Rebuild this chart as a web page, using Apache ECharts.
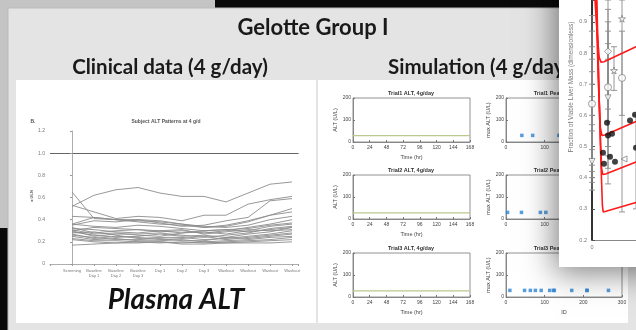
<!DOCTYPE html>
<html><head><meta charset="utf-8">
<script src="https://cdn.jsdelivr.net/npm/echarts@6/dist/echarts.min.js"></script>
<style>html,body{margin:0;padding:0;background:#bdbdbd;overflow:hidden;width:636px;height:330px}#c{width:960px;height:330px}</style>
</head><body><div id="c"></div>
<script>
// ---------- DATA ----------
const clinicalCategories = ['Screening','Baseline\nDay 1','Baseline\nDay 2','Baseline\nDay 3','Day 1','Day 2','Day 3','Washout','Washout','Washout','Washout'];
const clinicalYTicks = ['0','0.2','0.4','0.6','0.8','1.0','1.2'];
const uln = 1.0;
const treatmentPeriod = [3.8, 6.8];
const subj01 = [0.52,0.62,0.67,0.69,0.64,0.61,0.61,0.56,0.64,0.72,0.74];
const subj02 = [0.65,0.41,0.40,0.39,0.38,0.36,0.33,0.34,0.38,0.44,0.50];
const subj03 = [0.53,0.47,0.41,0.43,0.42,0.39,0.44,0.44,0.54,0.58,0.61];
const subj04 = [0.36,0.42,0.40,0.40,0.37,0.34,0.35,0.39,0.42,0.57,0.59];
const subj05 = [0.43,0.42,0.40,0.38,0.36,0.35,0.33,0.35,0.39,0.44,0.47];
const subj06 = [0.35,0.39,0.38,0.40,0.39,0.36,0.34,0.33,0.35,0.40,0.43];
const subj07 = [0.33,0.28,0.30,0.31,0.29,0.30,0.28,0.30,0.33,0.36,0.40];
const subj08 = [0.31,0.27,0.28,0.26,0.25,0.28,0.29,0.27,0.30,0.34,0.36];
const subj09 = [0.30,0.25,0.27,0.27,0.28,0.26,0.24,0.26,0.28,0.32,0.34];
const subj10 = [0.29,0.26,0.24,0.25,0.27,0.25,0.26,0.24,0.27,0.29,0.33];
const subj11 = [0.28,0.29,0.26,0.23,0.24,0.24,0.22,0.23,0.25,0.27,0.30];
const subj12 = [0.27,0.23,0.25,0.24,0.22,0.23,0.25,0.22,0.24,0.26,0.28];
const subj13 = [0.26,0.24,0.22,0.22,0.23,0.21,0.21,0.24,0.23,0.25,0.27];
const subj14 = [0.25,0.22,0.23,0.21,0.21,0.22,0.20,0.21,0.22,0.24,0.25];
const subj15 = [0.23,0.21,0.21,0.20,0.19,0.20,0.19,0.20,0.21,0.22,0.24];
const subj16 = [0.22,0.20,0.19,0.19,0.20,0.18,0.18,0.19,0.20,0.21,0.22];
const subj17 = [0.17,0.18,0.19,0.20,0.20,0.19,0.20,0.19,0.19,0.19,0.20];
const subj18 = [0.32,0.31,0.29,0.28,0.30,0.31,0.27,0.29,0.31,0.30,0.31];
const subj19 = [0.30,0.33,0.32,0.31,0.30,0.28,0.30,0.31,0.29,0.31,0.33];
const subj20 = [0.36,0.34,0.33,0.35,0.34,0.32,0.30,0.31,0.32,0.35,0.37];
const clinicalSubjects = [subj01,subj02,subj03,subj04,subj05,subj06,subj07,subj08,subj09,subj10,subj11,subj12,subj13,subj14,subj15,subj16,subj17,subj18,subj19,subj20];

const simTimes = [0,24,48,72,96,120,144,168];
const trial1ALT = [29,29,29,29,29,29,29,29];
const trial2ALT = [28,28,28,28,28,28,28,28];
const trial3ALT = [28,28,28,28,28,28,28,28];
const trial1PeakID = [41,69,137];
const trial1PeakALT = [30,30,30];
const trial2PeakID = [4,40,89,103];
const trial2PeakALT = [30,30,30,30];
const trial3PeakID = [10,48,63,76,91,113,123,125,170,209,210,265];
const trial3PeakALT = [30,30,30,30,30,30,30,30,30,30,30,30];

// overlay figure: fraction of viable liver mass
const redCurve1 = [[0.5,1.02],[1.2,0.88],[1.8,0.785],[2.3,0.77],[3,0.772],[11,0.82],[20,0.87]];
const redCurve2 = [[0.9,1.02],[1.6,0.70],[2.1,0.56],[2.5,0.535],[3.2,0.537],[11,0.58],[20,0.63]];
const redCurve3 = [[1.0,1.02],[1.9,0.60],[2.4,0.43],[2.7,0.41],[3.4,0.412],[11,0.45],[20,0.49]];
const redCurve4 = [[1.1,1.02],[2.1,0.50],[2.6,0.31],[2.8,0.29],[3.5,0.292],[11,0.32],[20,0.35]];
const filledX = [3.75,4.0,5.0,2.75,3.0,4.5,5.75,9.5,10.75,11];
const filledY = [0.576,0.535,0.541,0.48,0.445,0.467,0.451,0.583,0.602,0.496];
const openCircleX = [0,4.0,7.5];
const openCircleY = [0.637,0.69,0.72];
const diamondX = [4.0]; const diamondY = [0.805];
const starX = [7.5,5.5]; const starY = [0.91,0.744];
const triDownX = [4.0,0]; const triDownY = [0.656,0.452];
const triLeftX = [8.0]; const triLeftY = [0.46];
const errX  = [0,0,0,0,0,0,0,0,4.0,4.0,4.0,4.0,4.0,4.0,5.5,7.5,7.5,11];
const errLo = [0.36,0.385,0.40,0.42,0.44,0.49,0.55,0.60,0.38,0.43,0.47,0.50,0.58,0.62,0.68,0.29,0.60,0.30];
const errHi = [0.92,0.87,0.82,0.78,0.74,0.70,0.66,0.57,0.97,0.94,0.90,0.87,0.83,0.78,0.82,0.97,0.87,0.60];

// ---------- CHART ----------
const chart = echarts.init(document.getElementById('c'), null, {renderer:'canvas', width:960, height:330});
const SANS = 'Liberation Sans';
const tiny = {fontFamily:SANS, fontSize:5, color:'#444'};

const grids = [
  {left:50, top:131, width:248.6, height:133, zlevel:1},
  {left:353, top:98, width:117, height:44}, {left:353, top:175, width:117, height:44}, {left:353, top:253, width:117, height:44},
  {left:506, top:98, width:116, height:44}, {left:506, top:175, width:116, height:44}, {left:506, top:253, width:116, height:44},
  {left:592, top:0, width:300, height:240, zlevel:3}
];
for (let i=1;i<=6;i++){ Object.assign(grids[i], {show:true, backgroundColor:'#fff', borderColor:'#777', borderWidth:0.8, zlevel:1}); }

const xAxes = [], yAxes = [];
xAxes.push({gridIndex:0, type:'value', min:-1, max:10.3, interval:1, zlevel:1,
  axisLine:{lineStyle:{color:'#999', width:0.8}}, axisTick:{length:2, lineStyle:{color:'#999'}}, splitLine:{show:false},
  axisLabel:{fontFamily:SANS, fontSize:4, lineHeight:5, color:'#777', margin:4,
    formatter:v=> (Number.isInteger(v) && v>=0 && v<clinicalCategories.length) ? clinicalCategories[v] : ''}});
yAxes.push({gridIndex:0, type:'value', min:0, max:1.2, interval:0.2, zlevel:1,
  axisLine:{show:true, lineStyle:{color:'#999', width:0.8}}, axisTick:{show:true, length:2, lineStyle:{color:'#999'}}, splitLine:{show:false},
  axisLabel:{fontFamily:SANS, fontSize:5, color:'#777', margin:5, formatter:v=>clinicalYTicks[Math.round(v/0.2)]}});

for (let k=0;k<3;k++){
  xAxes.push({gridIndex:1+k, type:'value', min:0, max:168, interval:24, zlevel:1,
    name:'Time (hr)', nameLocation:'middle', nameGap:12, nameTextStyle:{fontFamily:SANS, fontSize:5.5, color:'#444'},
    axisLine:{lineStyle:{color:'#777', width:0.8}}, axisTick:{inside:true, length:2, lineStyle:{color:'#777'}}, splitLine:{show:false},
    axisLabel:{...tiny, margin:3}});
  yAxes.push({gridIndex:1+k, type:'value', min:0, max:200, interval:100, zlevel:1,
    name:'ALT (U/L)', nameLocation:'middle', nameGap:15, nameTextStyle:{fontFamily:SANS, fontSize:5.5, color:'#444'},
    axisLine:{show:true, lineStyle:{color:'#777', width:0.8}}, axisTick:{show:true, inside:true, length:2, lineStyle:{color:'#777'}}, splitLine:{show:false},
    axisLabel:{...tiny, margin:2}});
}
for (let k=0;k<3;k++){
  xAxes.push({gridIndex:4+k, type:'value', min:0, max:300, interval:100, zlevel:1,
    name: k===2 ? 'ID' : '', nameLocation:'middle', nameGap:12, nameTextStyle:{fontFamily:SANS, fontSize:5.5, color:'#444'},
    axisLine:{lineStyle:{color:'#777', width:0.8}}, axisTick:{inside:true, length:2, lineStyle:{color:'#777'}}, splitLine:{show:false},
    axisLabel:{...tiny, margin:3}});
  yAxes.push({gridIndex:4+k, type:'value', min:0, max:200, interval:100, zlevel:1,
    name:'max ALT (U/L)', nameLocation:'middle', nameGap:15, nameTextStyle:{fontFamily:SANS, fontSize:5.5, color:'#444'},
    axisLine:{show:true, lineStyle:{color:'#777', width:0.8}}, axisTick:{show:true, inside:true, length:2, lineStyle:{color:'#777'}}, splitLine:{show:false},
    axisLabel:{...tiny, margin:2}});
}
xAxes.push({gridIndex:7, type:'value', min:0, max:75, interval:25, zlevel:3,
  axisLine:{lineStyle:{color:'#888', width:1}}, axisTick:{show:false}, splitLine:{show:false},
  axisLabel:{fontFamily:SANS, fontSize:5.5, color:'#777', margin:4, formatter:v=> v===0?'0':''}});
yAxes.push({gridIndex:7, type:'value', min:0.2, max:0.97, interval:0.1, zlevel:3,
  axisLine:{show:true, lineStyle:{color:'#333', width:2}}, axisTick:{show:true, inside:true, length:3, lineStyle:{color:'#555'}}, splitLine:{show:false},
  axisLabel:{fontFamily:SANS, fontSize:5.5, color:'#777', margin:5,
    formatter:v=> Math.abs(v*10-Math.round(v*10))<1e-6 ? v.toFixed(1) : ''}});

const series = [];
clinicalSubjects.forEach((s)=>{
  series.push({type:'line', xAxisIndex:0, yAxisIndex:0, zlevel:1, data:s.map((v,j)=>[j,v]), symbol:'none',
    lineStyle:{color:'#8c8c8c', width:0.9}, silent:true});
});
series.push({type:'line', xAxisIndex:0, yAxisIndex:0, zlevel:1, data:[], symbol:'none',
  markLine:{silent:true, symbol:'none', label:{show:false}, lineStyle:{color:'#666', type:'solid', width:1}, data:[{yAxis:uln}]},
  markArea:{silent:true, itemStyle:{color:'#d9d9d9', borderColor:'#999', borderWidth:0.6},
    label:{show:true, position:'inside', fontFamily:SANS, fontSize:4, color:'#777'},
    data:[[{name:'Treatment Period', xAxis:treatmentPeriod[0], yAxis:0}, {xAxis:treatmentPeriod[1], yAxis:0.065}]]}});

[trial1ALT, trial2ALT, trial3ALT].forEach((arr,k)=>{
  series.push({type:'line', xAxisIndex:1+k, yAxisIndex:1+k, zlevel:1, symbol:'none',
    data:simTimes.map((t,j)=>[t,arr[j]]), lineStyle:{color:'#b9c98f', width:1.2}});
});
[[trial1PeakID,trial1PeakALT],[trial2PeakID,trial2PeakALT],[trial3PeakID,trial3PeakALT]].forEach((p,k)=>{
  series.push({type:'scatter', xAxisIndex:4+k, yAxisIndex:4+k, zlevel:1, symbol:'rect', symbolSize:3.5,
    data:p[0].map((id,j)=>[id,p[1][j]]), itemStyle:{color:'#2f86d6'}});
});

// overlay figure series
series.push({type:'custom', xAxisIndex:7, yAxisIndex:7, zlevel:3, z:3,
  data: errX.map((x,i)=>[x,errLo[i],errHi[i]]),
  encode:{x:0, y:[1,2]},
  renderItem:function(params, api){
    const x=api.value(0), lo=api.value(1), hi=api.value(2);
    const a=api.coord([x,hi]), b=api.coord([x,lo]); const w=3;
    const st={stroke:'#8a8a8a', lineWidth:0.9};
    return {type:'group', children:[
      {type:'line', shape:{x1:a[0],y1:a[1],x2:b[0],y2:b[1]}, style:st},
      {type:'line', shape:{x1:a[0]-w,y1:a[1],x2:a[0]+w,y2:a[1]}, style:st},
      {type:'line', shape:{x1:b[0]-w,y1:b[1],x2:b[0]+w,y2:b[1]}, style:st}
    ]};
  }});
[redCurve1, redCurve2, redCurve3, redCurve4].forEach(c=>{
  series.push({type:'line', xAxisIndex:7, yAxisIndex:7, zlevel:3, z:5, data:c, symbol:'none',
    lineStyle:{color:'#ff1a1a', width:1.6}});
});
function sc(xs, ys, sym, size, style, rot){
  series.push({type:'scatter', xAxisIndex:7, yAxisIndex:7, zlevel:3, z:6, symbol:sym, symbolSize:size, symbolRotate:rot||0,
    data: xs.map((x,i)=>[x,ys[i]]), itemStyle:style});
}
const openStyle = {color:'#fff', borderColor:'#777', borderWidth:0.9};
sc(filledX, filledY, 'circle', 6, {color:'#111'});
sc(openCircleX, openCircleY, 'circle', 7, openStyle);
sc(diamondX, diamondY, 'diamond', 7, openStyle);
sc(starX, starY, 'path://M50,0L61,35L98,35L68,57L79,91L50,70L21,91L32,57L2,35L39,35Z', 7, openStyle);
sc(triDownX, triDownY, 'triangle', 6, openStyle, 180);
sc(triLeftX, triLeftY, 'triangle', 6, openStyle, 90);

const graphic = [
  {type:'rect', zlevel:0, z:0, shape:{x:0,y:0,width:960,height:330}, style:{fill:'#c4c4c4'}},
  {type:'rect', zlevel:0, z:1, shape:{x:215,y:0,width:345,height:8}, style:{fill:'#0a0a0a'}},
  {type:'rect', zlevel:0, z:1, shape:{x:0,y:228,width:8,height:102}, style:{fill:'#0a0a0a'}},
  {type:'rect', zlevel:0, z:2, shape:{x:8,y:8,width:700,height:330}, style:{fill:'#e4e4e4', stroke:'#bbb', lineWidth:1}},
  {type:'rect', zlevel:0, z:3, shape:{x:16,y:80,width:300,height:243}, style:{fill:'#fff'}},
  {type:'rect', zlevel:0, z:3, shape:{x:318,y:80,width:310,height:243}, style:{fill:'#fff'}},
  {type:'text', zlevel:0, z:5, x:313, y:28, style:{text:'Gelotte Group I', font:'bold 22px Lato', fill:'#1a1a1a', textAlign:'center', textVerticalAlign:'middle'}},
  {type:'text', zlevel:0, z:5, x:170, y:67, style:{text:'Clinical data (4 g/day)', font:'bold 20.5px Lato', fill:'#1a1a1a', textAlign:'center', textVerticalAlign:'middle'}},
  {type:'text', zlevel:0, z:5, x:388, y:67, style:{text:'Simulation (4 g/day)', font:'bold 20.5px Lato', fill:'#1a1a1a', textAlign:'left', textVerticalAlign:'middle'}},
  {type:'text', zlevel:1, z:5, x:176, y:300, style:{text:'Plasma ALT', font:'italic bold 28px Lato', fill:'#111', textAlign:'center', textVerticalAlign:'middle'}},
  {type:'text', zlevel:1, z:5, x:166, y:122, style:{text:'Subject ALT Patterns at 4 g/d', font:'bold 5px "Liberation Sans"', fill:'#555', textAlign:'center', textVerticalAlign:'middle'}},
  {type:'text', zlevel:1, z:5, x:33, y:122, style:{text:'B.', font:'bold 5px "Liberation Sans"', fill:'#555', textAlign:'center', textVerticalAlign:'middle'}},
  {type:'text', zlevel:1, z:5, x:32, y:196, rotation:Math.PI/2, style:{text:'x ULN', font:'bold 4px "Liberation Sans"', fill:'#555', textAlign:'center', textVerticalAlign:'middle'}},
  {type:'text', zlevel:1, z:5, x:411, y:93, style:{text:'Trial1 ALT, 4g/day', font:'bold 5.5px "Liberation Sans"', fill:'#333', textAlign:'center', textVerticalAlign:'middle'}},
  {type:'text', zlevel:1, z:5, x:411, y:170, style:{text:'Trial2 ALT, 4g/day', font:'bold 5.5px "Liberation Sans"', fill:'#333', textAlign:'center', textVerticalAlign:'middle'}},
  {type:'text', zlevel:1, z:5, x:411, y:248, style:{text:'Trial3 ALT, 4g/day', font:'bold 5.5px "Liberation Sans"', fill:'#333', textAlign:'center', textVerticalAlign:'middle'}},
  {type:'text', zlevel:1, z:5, x:564, y:93, style:{text:'Trial1 Peak ALT, 4g/day', font:'bold 5.5px "Liberation Sans"', fill:'#333', textAlign:'center', textVerticalAlign:'middle'}},
  {type:'text', zlevel:1, z:5, x:564, y:170, style:{text:'Trial2 Peak ALT, 4g/day', font:'bold 5.5px "Liberation Sans"', fill:'#333', textAlign:'center', textVerticalAlign:'middle'}},
  {type:'text', zlevel:1, z:5, x:564, y:248, style:{text:'Trial3 Peak ALT, 4g/day', font:'bold 5.5px "Liberation Sans"', fill:'#333', textAlign:'center', textVerticalAlign:'middle'}},
  {type:'rect', zlevel:2, z:0, shape:{x:559,y:-30,width:400,height:297}, style:{fill:'#fff', shadowBlur:30, shadowColor:'rgba(0,0,0,0.5)', shadowOffsetX:-4, shadowOffsetY:6}},
  {type:'text', zlevel:3, z:5, x:571, y:87, rotation:Math.PI/2, style:{text:'Fraction of Viable Liver Mass (dimensionless)', font:'6.5px "Liberation Sans"', fill:'#777', textAlign:'center', textVerticalAlign:'middle'}}
];

chart.setOption({animation:false, grid:grids, xAxis:xAxes, yAxis:yAxes, series:series, graphic:graphic});
</script></body></html>
